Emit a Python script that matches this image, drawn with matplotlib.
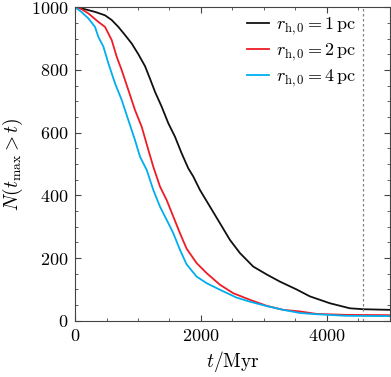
import matplotlib
matplotlib.use("Agg")
import matplotlib.pyplot as plt
from matplotlib.ticker import MultipleLocator

plt.rcParams['font.family'] = 'serif'
plt.rcParams['font.serif'] = ['cmr10']
plt.rcParams['mathtext.fontset'] = 'cm'
plt.rcParams['axes.formatter.use_mathtext'] = True

# data (t in Myr, N)
t_1pc = [0, 106, 317, 476, 582, 688, 794, 900, 1005, 1111, 1190, 1270, 1375,
         1481, 1587, 1693, 1799, 1878, 1984, 2143, 2302, 2460, 2619, 2830,
         3042, 3254, 3413, 3519, 3730, 4048, 4365, 4577, 5000]
n_1pc = [1000, 996, 985, 974, 959, 937, 911, 884, 850, 812, 772, 730, 683,
         630, 587, 534, 486, 460, 417, 364, 311, 258, 216, 173,
         148, 125, 110, 100, 78, 56, 40, 37, 35]

t_2pc = [0, 100, 212, 370, 476, 582, 661, 741, 846, 952, 1058, 1164, 1243,
         1349, 1455, 1561, 1667, 1772, 1931, 2090, 2302, 2513, 2778, 3042,
         3307, 3571, 3836, 4300, 5000]
n_2pc = [1000, 994, 980, 953, 937, 895, 842, 799, 736, 672, 619, 545, 491,
         428, 385, 332, 279, 230, 184, 152, 115, 88, 67, 48,
         35, 30, 22, 19, 18]

t_4pc = [0, 100, 212, 317, 370, 450, 529, 635, 741, 846, 952, 1032, 1138,
         1243, 1349, 1455, 1561, 1667, 1772, 1931, 2090, 2302, 2566, 2778,
         3042, 3307, 3571, 3836, 4300, 5000]
n_4pc = [1000, 985, 964, 937, 905, 874, 821, 757, 704, 640, 576, 523, 481,
         417, 364, 322, 279, 226, 180, 141, 120, 99, 74, 61,
         47, 35, 25, 21, 16, 15]

t_now = 4570

fig = plt.figure(figsize=(3.91, 3.77), dpi=100)
ax = fig.add_axes([0.192, 0.149, 0.805, 0.832])

ax.plot(t_1pc, n_1pc, color='#111111', lw=1.3, label=r'$r_{\mathrm{h},0} = 1\,\mathrm{pc}$')
ax.plot(t_2pc, n_2pc, color='#ee1c25', lw=1.3, label=r'$r_{\mathrm{h},0} = 2\,\mathrm{pc}$')
ax.plot(t_4pc, n_4pc, color='#00aeef', lw=1.3, label=r'$r_{\mathrm{h},0} = 4\,\mathrm{pc}$')
ax.axvline(t_now, color='grey', ls=(0, (2, 2)), lw=0.9)

ax.set_xlim(0, 5000)
ax.set_ylim(0, 1000)
ax.xaxis.set_major_locator(MultipleLocator(2000))
ax.xaxis.set_minor_locator(MultipleLocator(500))
ax.yaxis.set_major_locator(MultipleLocator(200))
ax.yaxis.set_minor_locator(MultipleLocator(50))
ax.tick_params(which='both', direction='in', top=True, right=True,
               labelsize=13, color='#444444')
ax.tick_params(which='major', length=4, pad=5)
ax.tick_params(which='minor', length=2)
for s in ax.spines.values():
    s.set_color('#444444')

ax.set_xlabel(r'$t/\mathrm{Myr}$', fontsize=14)
ax.set_ylabel(r'$N(t_{\max} > t)$', fontsize=14)
ax.legend(loc='upper right', bbox_to_anchor=(0.905, 0.985), frameon=False,
          fontsize=13, handlelength=1.2, handletextpad=0.4, labelspacing=0.25,
          borderaxespad=0, borderpad=0.2)

fig.savefig('out.png', dpi=100)
